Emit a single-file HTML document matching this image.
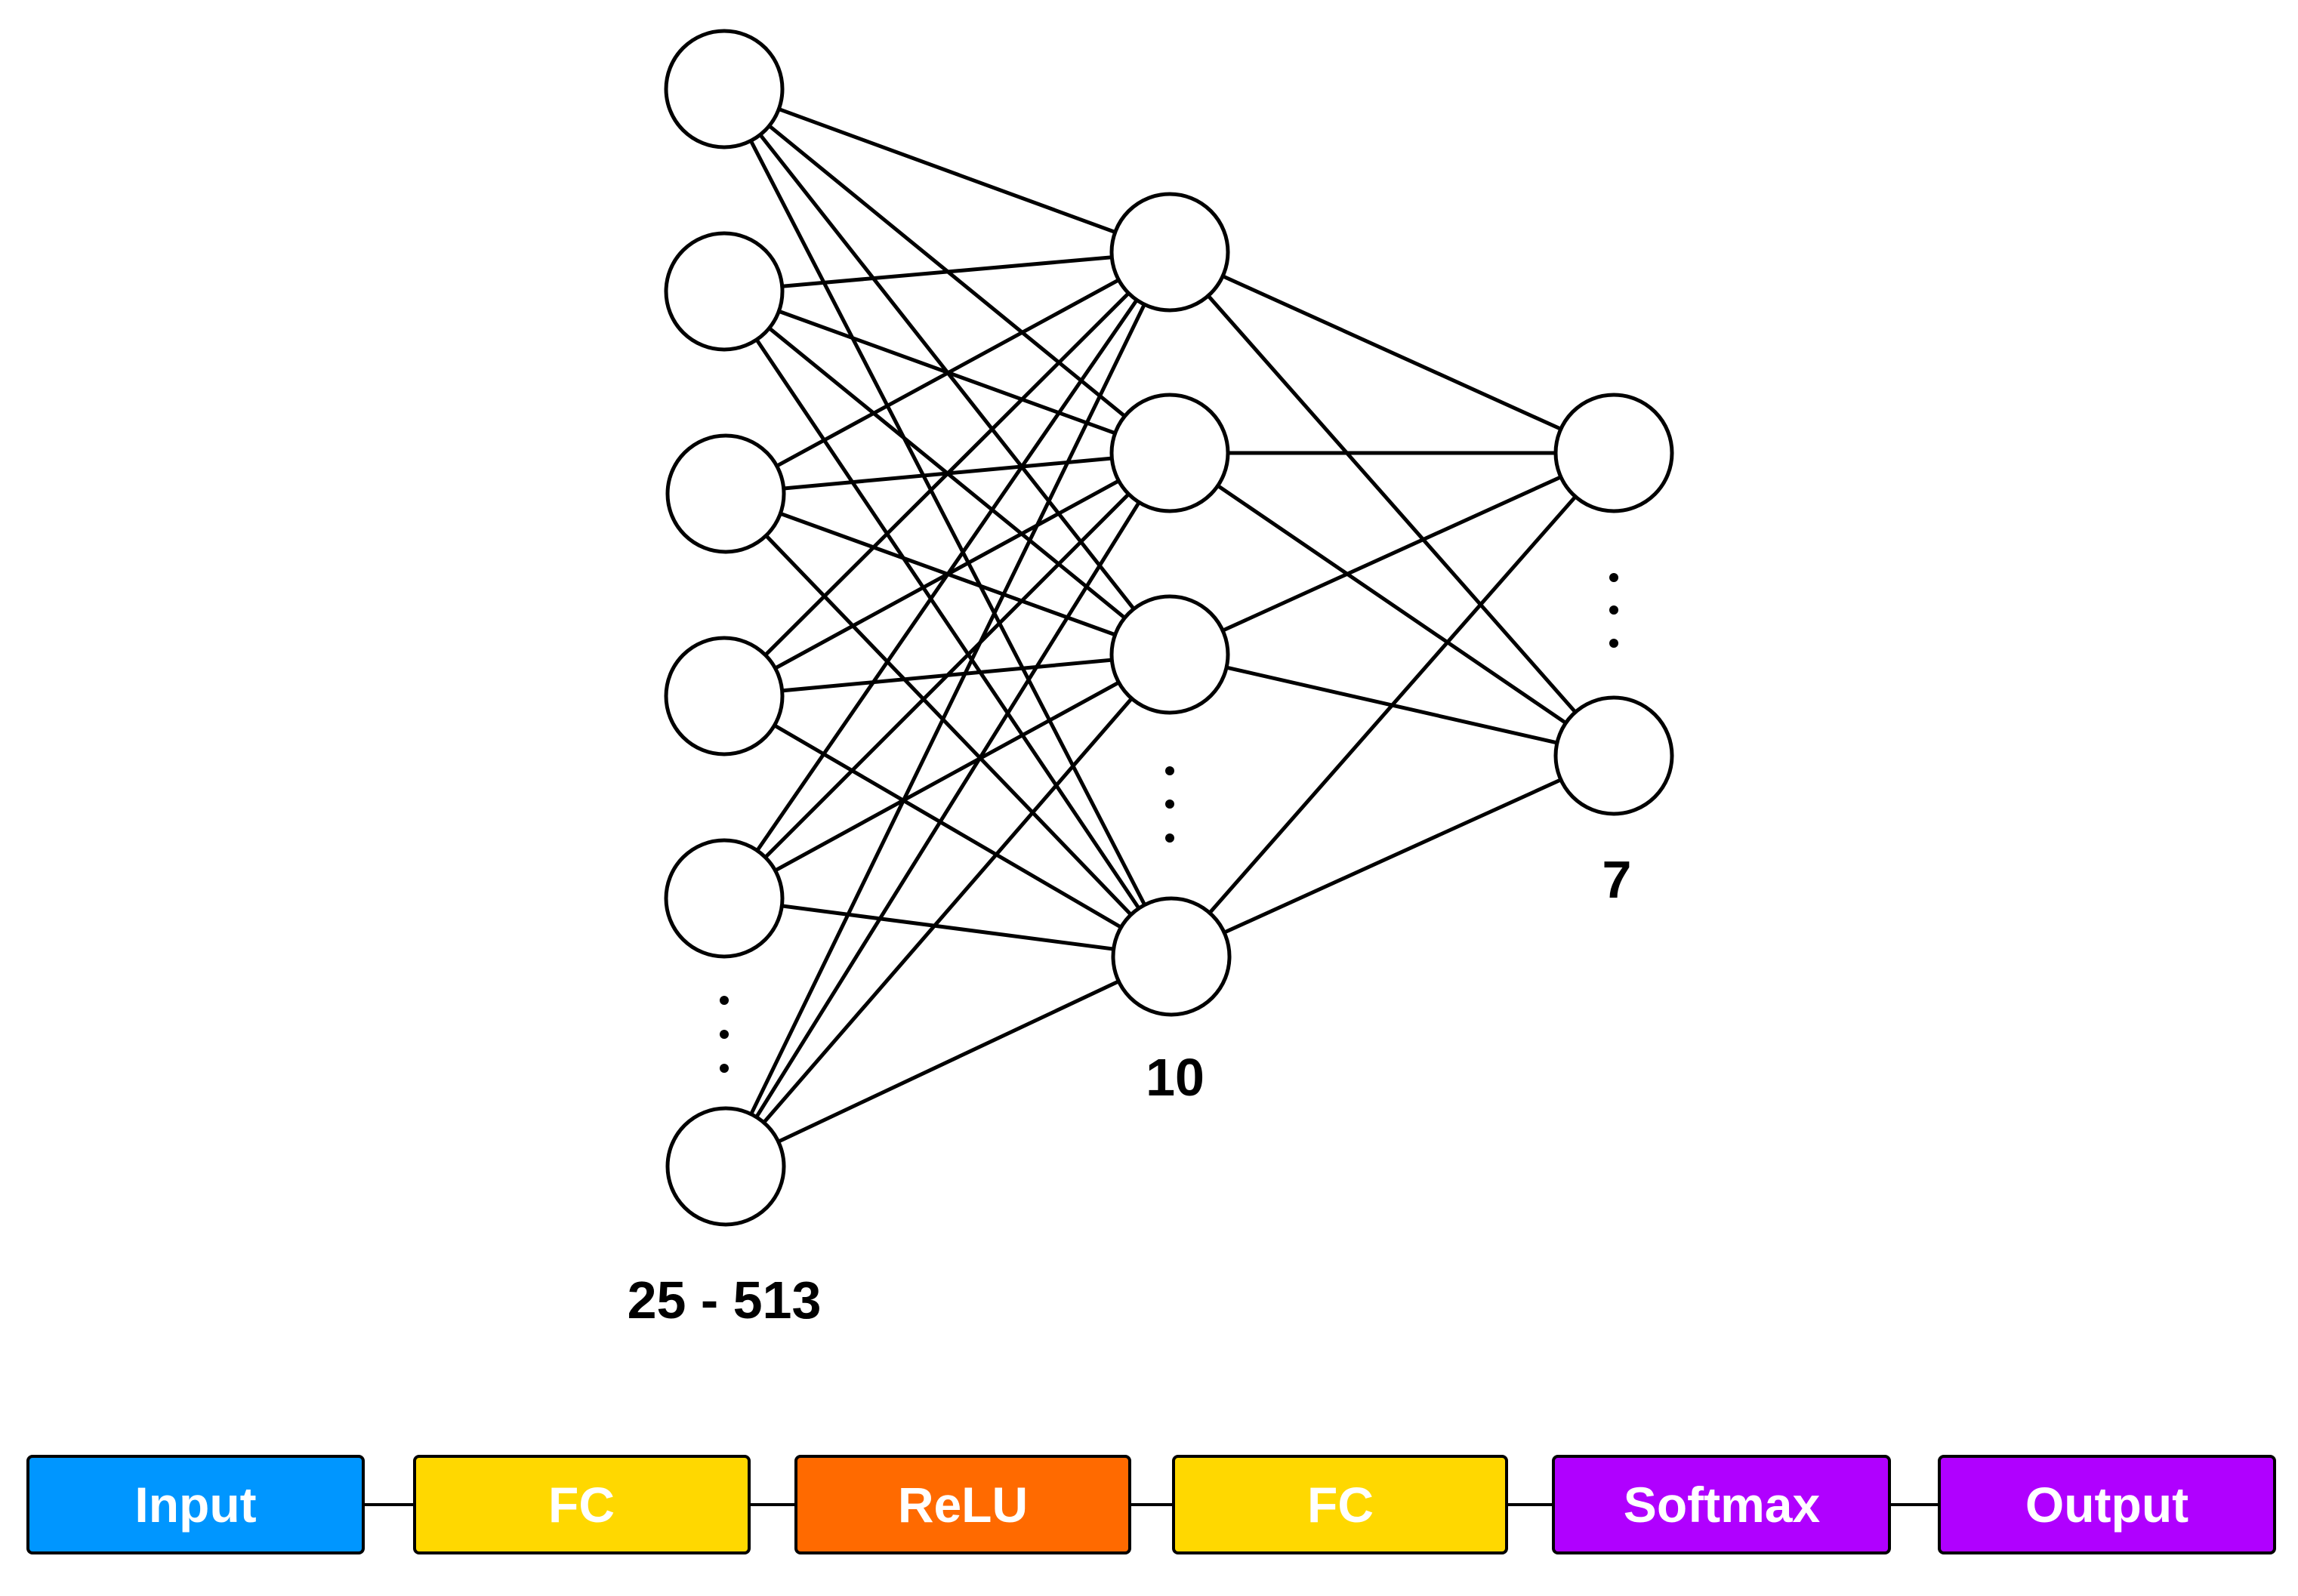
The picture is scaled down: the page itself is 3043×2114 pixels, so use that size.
<!DOCTYPE html>
<html><head><meta charset="utf-8"><style>
html,body{margin:0;padding:0;background:#fff;}
svg{display:block;}
</style></head><body>
<svg width="3043" height="2114" viewBox="0 0 3043 2114" xmlns="http://www.w3.org/2000/svg">
<g stroke="#000" stroke-width="5" id="lines">
</g>
<g id="nodes" fill="#fff" stroke="#000" stroke-width="5"></g>
<g fill="#000">
<circle cx="959" cy="1325" r="6"/><circle cx="959" cy="1370" r="6"/><circle cx="959" cy="1415" r="6"/>
<circle cx="1549" cy="1021" r="6"/><circle cx="1549" cy="1065" r="6"/><circle cx="1549" cy="1110" r="6"/>
<circle cx="2137" cy="765" r="6"/><circle cx="2137" cy="808" r="6"/><circle cx="2137" cy="852" r="6"/>
</g>
<g font-family="Liberation Sans, sans-serif" font-weight="bold" font-size="70" text-anchor="middle" fill="#000">
<text x="959" y="1746">25 - 513</text>
<text x="1556" y="1451">10</text>
<text x="2141" y="1189">7</text>
</g>
<g stroke="#000" stroke-width="4">
<line x1="481" y1="1993" x2="549" y2="1993"/>
<line x1="992" y1="1993" x2="1054" y2="1993"/>
<line x1="1496" y1="1993" x2="1554" y2="1993"/>
<line x1="1995" y1="1993" x2="2057" y2="1993"/>
<line x1="2502" y1="1993" x2="2568" y2="1993"/>
</g>
<g stroke="#000" stroke-width="4">
<rect x="37" y="1929" width="444" height="128" rx="6" fill="#0096FF"/>
<rect x="549" y="1929" width="443" height="128" rx="6" fill="#FFD800"/>
<rect x="1054" y="1929" width="442" height="128" rx="6" fill="#FF6A00"/>
<rect x="1554" y="1929" width="441" height="128" rx="6" fill="#FFD800"/>
<rect x="2057" y="1929" width="445" height="128" rx="6" fill="#B000FF"/>
<rect x="2568" y="1929" width="444" height="128" rx="6" fill="#B000FF"/>
</g>
<g font-family="Liberation Sans, sans-serif" font-weight="bold" font-size="66" text-anchor="middle" fill="#fff">
<text x="259" y="2016">Input</text>
<text x="770" y="2016">FC</text>
<text x="1275" y="2016">ReLU</text>
<text x="1775" y="2016">FC</text>
<text x="2280" y="2016">Softmax</text>
<text x="2790" y="2016">Output</text>
</g>
<script>
var A=[[959,118],[959,386],[961,654],[959,922],[959,1190],[961,1545]];
var B=[[1549,334],[1549,600],[1549,867],[1551,1267]];
var C=[[2137,600],[2137,1001]];
var ns="http://www.w3.org/2000/svg",L=document.getElementById('lines'),N=document.getElementById('nodes');
function ln(p,q){var e=document.createElementNS(ns,'line');e.setAttribute('x1',p[0]);e.setAttribute('y1',p[1]);e.setAttribute('x2',q[0]);e.setAttribute('y2',q[1]);L.appendChild(e);}
A.forEach(function(a){B.forEach(function(b){ln(a,b);});});
B.forEach(function(b){C.forEach(function(c){ln(b,c);});});
A.concat(B,C).forEach(function(p){var e=document.createElementNS(ns,'circle');e.setAttribute('cx',p[0]);e.setAttribute('cy',p[1]);e.setAttribute('r',77);N.appendChild(e);});
</script>
</svg>
</body></html>
